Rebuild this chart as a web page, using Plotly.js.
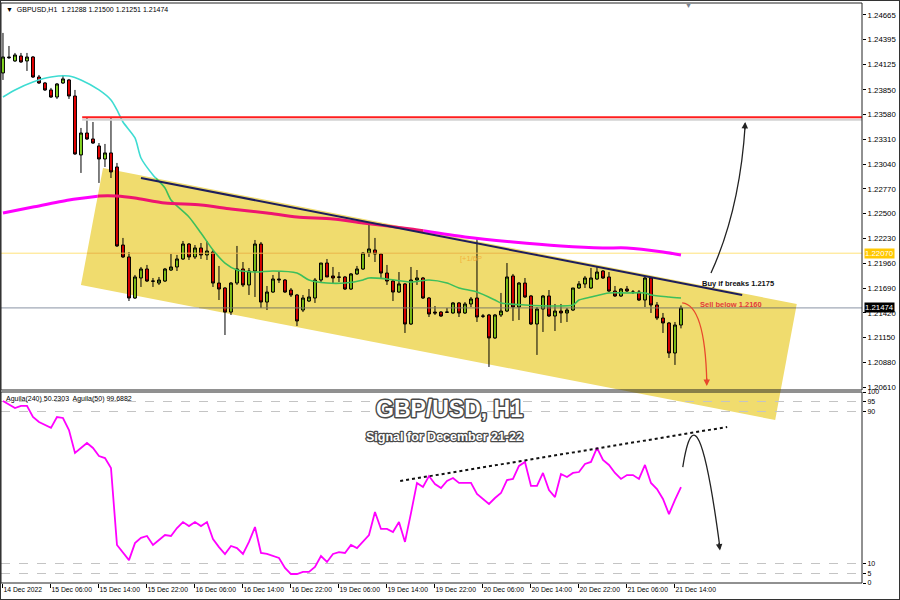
<!DOCTYPE html>
<html>
<head>
<meta charset="utf-8">
<script src="https://cdn.plot.ly/plotly-3.0.1.min.js"></script>
<style>
html,body{margin:0;padding:0;background:#fff;}
#wrap{position:relative;width:900px;height:600px;overflow:hidden;}
#chart{width:900px;height:600px;}
#frame{position:absolute;left:0;top:0;width:898px;height:598px;border:1px solid #333;pointer-events:none;}
</style>
</head>
<body>
<div id="wrap"><div id="chart"></div><div id="frame"></div></div>
<script>
// ---------------- DATA ----------------
const symbolName = 'GBPUSD,H1';

const barOpen = [1.24033,1.24207,1.24164,1.24218,1.24164,1.24207,1.23989,1.23924,1.23848,1.23771,
1.23924,1.23957,1.23782,1.23140,1.23379,1.23314,1.23238,1.23096,1.23162,1.23009,
1.22159,1.22029,1.21582,1.21800,1.21898,1.21767,1.21745,1.21767,1.21887,1.21920,
1.22007,1.22170,1.22029,1.22127,1.22051,1.22083,1.21745,1.21691,1.21429,1.21745,
1.21898,1.21724,1.21876,1.22170,1.21538,1.21647,1.21789,1.21778,1.21669,1.21615,
1.21451,1.21549,1.21582,1.21778,1.21963,1.21822,1.21811,1.21811,1.21680,1.21844,
1.21898,1.22072,1.22105,1.22061,1.21854,1.21767,1.21647,1.21735,1.21299,1.21778,
1.21800,1.21582,1.21429,1.21429,1.21429,1.21419,1.21528,1.21419,1.21517,1.21582,
1.21386,1.21397,1.21147,1.21397,1.21440,1.21822,1.21484,1.21745,1.21604,1.21299,
1.21462,1.21604,1.21386,1.21440,1.21419,1.21451,1.21691,1.21735,1.21691,1.21789,
1.21876,1.21811,1.21658,1.21604,1.21680,1.21647,1.21647,1.21560,1.21800,1.21506,
1.21364,1.21310,1.20983,1.21288];

const barHigh = [1.24469,1.24327,1.24251,1.24251,1.24251,1.24218,1.24011,1.23935,1.23870,1.23924,
1.24011,1.23968,1.23848,1.23434,1.23543,1.23499,1.23270,1.23260,1.23543,1.23053,
1.22236,1.22083,1.21833,1.21920,1.21942,1.21800,1.21811,1.21909,1.22061,1.22051,
1.22203,1.22181,1.22159,1.22181,1.22203,1.22105,1.21931,1.21700,1.21756,1.22149,
1.21974,1.21909,1.22214,1.22192,1.21713,1.21833,1.21876,1.21789,1.21691,1.21626,
1.21615,1.21680,1.21800,1.21963,1.22007,1.21920,1.21865,1.21822,1.21854,1.21931,
1.22083,1.22399,1.22236,1.22072,1.21942,1.21778,1.21865,1.21745,1.21920,1.21887,
1.21811,1.21593,1.21495,1.21440,1.21473,1.21538,1.21538,1.21538,1.21593,1.22236,
1.21408,1.21408,1.21408,1.21637,1.21963,1.21844,1.21756,1.21800,1.21615,1.21484,
1.21615,1.21669,1.21517,1.21517,1.21473,1.21691,1.21767,1.21822,1.21909,1.21920,
1.21887,1.21865,1.21713,1.21691,1.21713,1.21669,1.21669,1.21811,1.21811,1.21538,
1.21419,1.21321,1.21321,1.21500];

const barLow = [1.23957,1.24185,1.24153,1.24142,1.24055,1.23978,1.23913,1.23837,1.23761,1.23750,
1.23913,1.23750,1.23140,1.22944,1.23303,1.23260,1.22835,1.23009,1.22889,1.22138,
1.22018,1.21549,1.21571,1.21702,1.21756,1.21702,1.21724,1.21756,1.21876,1.21876,
1.21996,1.21996,1.22007,1.22007,1.21996,1.21702,1.21560,1.21179,1.21397,1.21724,
1.21702,1.21615,1.21593,1.21473,1.21451,1.21637,1.21745,1.21637,1.21593,1.21277,
1.21429,1.21538,1.21528,1.21756,1.21811,1.21745,1.21756,1.21669,1.21669,1.21833,
1.21887,1.22029,1.21974,1.21800,1.21724,1.21549,1.21637,1.21201,1.21288,1.21724,
1.21571,1.21375,1.21397,1.21375,1.21419,1.21410,1.21375,1.21408,1.21484,1.21321,
1.21364,1.20831,1.21136,1.21375,1.21429,1.21332,1.21342,1.21582,1.21288,1.20962,
1.21212,1.21375,1.21223,1.21310,1.21321,1.21440,1.21680,1.21691,1.21680,1.21778,
1.21789,1.21647,1.21593,1.21593,1.21647,1.21626,1.21549,1.21484,1.21419,1.21342,
1.21201,1.20929,1.20853,1.21251];

const barClose = [1.24207,1.24200,1.24229,1.24153,1.24207,1.23989,1.23924,1.23848,1.23771,1.23913,
1.23968,1.23782,1.23151,1.23379,1.23314,1.23270,1.23096,1.23162,1.22955,1.22149,
1.22029,1.21582,1.21811,1.21898,1.21767,1.21765,1.21778,1.21898,1.21920,1.22007,
1.22170,1.22029,1.22127,1.22051,1.22094,1.21745,1.21680,1.21429,1.21745,1.21898,
1.21724,1.21876,1.22170,1.21538,1.21647,1.21789,1.21780,1.21647,1.21615,1.21332,
1.21582,1.21593,1.21778,1.21963,1.21811,1.21800,1.21808,1.21680,1.21844,1.21898,
1.22072,1.22116,1.22061,1.21854,1.21767,1.21647,1.21735,1.21299,1.21778,1.21800,
1.21582,1.21408,1.21419,1.21386,1.21427,1.21528,1.21419,1.21517,1.21571,1.21375,
1.21384,1.21147,1.21397,1.21440,1.21811,1.21484,1.21745,1.21593,1.21299,1.21462,
1.21604,1.21386,1.21440,1.21419,1.21451,1.21691,1.21735,1.21800,1.21800,1.21865,
1.21800,1.21658,1.21604,1.21680,1.21658,1.21645,1.21560,1.21800,1.21506,1.21364,
1.21310,1.20983,1.21288,1.21474];

// fast moving average (read at bar positions)
const fastMaBar = [0,2,5,8,11,13,16,18,19,20,22,23,25,27,28,31,33,35,37,39,42,45,49,51,54,57,60,61,64,68,71,74,76,79,82,83,87,92,95,96,98,101,104,107,108,111,113];
const fastMaVal = [1.23771,1.23848,1.23935,1.23989,1.24000,1.23957,1.23848,1.23739,1.23630,1.23499,1.23325,1.23107,1.22922,1.22780,1.22650,1.22465,1.22290,1.22105,1.21963,1.21887,1.21865,1.21876,1.21854,1.21778,1.21745,1.21745,1.21778,1.21800,1.21789,1.21756,1.21778,1.21745,1.21691,1.21647,1.21560,1.21528,1.21506,1.21495,1.21506,1.21560,1.21593,1.21637,1.21637,1.21637,1.21615,1.21593,1.21582];

// slow moving average
const slowMaBar = [0,5,11,16,19,22,27,33,38,44,49,55,60,68,77,85,93,100,104,110,113];
const slowMaVal = [1.22508,1.22573,1.22650,1.22693,1.22693,1.22671,1.22617,1.22595,1.22552,1.22508,1.22464,1.22443,1.22399,1.22334,1.22247,1.22192,1.22149,1.22127,1.22127,1.22083,1.22051];

// Aguila oscillator
const aguilaBar = [0,2,3,4,5,6,8,9,10,11,12,13,14,15,16,17,18,19,20,21,22,23,24,25,26,27,28,29,30,31,32,33,34,35,36,37,38,39,40,41,42,43,44,45,46,47,48,49,50,51,52,53,54,55,56,57,58,59,60,61,62,63,64,65,66,67,68,69,70,71,72,73,74,75,76,78,79,81,82,83,84,85,86,87,88,89,90,91,92,93,94,95,96,97,98,99,100,101,102,103,104,105,106,107,108,109,110,111,112,113];
const aguilaVal = [95.3,91.6,92.7,92.7,86.9,84.3,81.2,86.9,86.4,80.1,
68.1,70.7,73.3,70.7,66.5,65.4,60.2,19.9,16.2,12.0,
20.9,23.6,24.6,19.9,22.5,25.1,24.6,28.8,31.9,29.8,
31.9,29.8,31.9,23.0,18.8,15.2,19.4,18.3,15.2,21.5,
29.3,15.7,15.2,14.1,13.1,7.9,4.7,4.7,5.8,5.8,
8.4,14.1,11.0,15.2,16.2,15.7,19.9,18.3,22.0,25.1,
37.2,28.3,28.3,26.7,31.9,21.5,36.6,52.4,50.3,56.0,
51.8,49.7,53.4,55.0,52.4,52.4,46.6,41.4,44.5,47.1,
53.9,54.5,61.3,63.4,50.8,50.8,57.6,48.7,45.0,57.1,
55.5,57.6,58.1,62.3,63.4,70.7,64.4,61.8,57.6,54.5,
56.5,56.5,54.5,61.8,52.4,49.2,44.0,36.1,43.5,50.2];
const aguilaLegend = 'Aguila(240) 50.2303  Aguila(50) 99.6882';

// time axis labels (one every 8 bars)
const timeLabels = ['14 Dec 2022','15 Dec 06:00','15 Dec 14:00','15 Dec 22:00','16 Dec 06:00','16 Dec 14:00','16 Dec 22:00','19 Dec 06:00','19 Dec 14:00','19 Dec 22:00','20 Dec 06:00','20 Dec 14:00','20 Dec 22:00','21 Dec 06:00','21 Dec 14:00'];
const priceTicks = [1.24665,1.24395,1.24125,1.23850,1.23580,1.23310,1.23040,1.22770,1.22500,1.22230,1.21960,1.21690,1.21420,1.21150,1.20880,1.20610];
const oscTicks = [0,5,10,90,95,100];

// drawn levels / objects (bar index, price)
const resistanceLevel = 1.2355;
const pivotLevel = 1.2207;
const channelBar = [16.67, 132.3, 128.7, 13.0];
const channelPrice = [1.22998, 1.21517, 1.20253, 1.21724];
const trendBar = [23, 123.2];
const trendPrice = [1.22889, 1.21615];
const oscTrendBar = [66.2, 120.7];
const oscTrendVal = [53.4, 81.7];

// ---------------- BUILD ----------------
const n = barClose.length;
const barIdx = Array.from({length:n}, (_,i)=>i);
const lastClose = barClose[n-1];
const tickBars = timeLabels.map((_,i)=>i*8);
const xRange = [-0.33, 143.17];
const priceRange = [1.20580, 1.24795];
const H = 580, topM = 3, botM = 17;
const mainDom = [(583-390)/H, 1];
const oscDom = [0, (583-392)/H];
const toPaperY = p => mainDom[0] + (p-priceRange[0])/(priceRange[1]-priceRange[0])*(mainDom[1]-mainDom[0]);

// channel polygon in (bar, price) space
const poly = channelBar.map((b,i)=>[b, channelPrice[i]]);
function insidePoly(x, y) {
  let c = false;
  for (let i=0, j=poly.length-1; i<poly.length; j=i++) {
    const [xi, yi] = poly[i], [xj, yj] = poly[j];
    if (((yi > y) !== (yj > y)) && (x < (xj-xi)*(y-yi)/(yj-yi) + xi)) c = !c;
  }
  return c;
}
function crossings(x0, y0, x1, y1) {
  const ts = [];
  for (let i=0, j=poly.length-1; i<poly.length; j=i++) {
    const [ax, ay] = poly[j], [bx, by] = poly[i];
    const dx = x1-x0, dy = y1-y0, ex = bx-ax, ey = by-ay;
    const den = dx*ey - dy*ex;
    if (Math.abs(den) < 1e-15) continue;
    const t = ((ax-x0)*ey - (ay-y0)*ex)/den;
    const u = ((ax-x0)*dy - (ay-y0)*dx)/den;
    if (t > 0 && t < 1 && u >= 0 && u <= 1) ts.push(t);
  }
  return ts.sort((a,b)=>a-b);
}
// splits a polyline into runs lying outside / inside the channel
function splitRuns(xs, ys) {
  const runs = [];
  let cur = {inside: insidePoly(xs[0], ys[0]), x:[xs[0]], y:[ys[0]]};
  for (let i=1; i<xs.length; i++) {
    const x0 = xs[i-1], y0 = ys[i-1], x1 = xs[i], y1 = ys[i];
    for (const t of crossings(x0, y0, x1, y1)) {
      const px = x0 + t*(x1-x0), py = y0 + t*(y1-y0);
      cur.x.push(px); cur.y.push(py); runs.push(cur);
      cur = {inside: !cur.inside, x:[px], y:[py]};
    }
    cur.x.push(x1); cur.y.push(y1);
  }
  runs.push(cur);
  return runs;
}
function lineTraces(xs, ys, outColor, inColor, width, shape) {
  return splitRuns(xs, ys).map(r => ({type:'scatter', mode:'lines', x:r.x, y:r.y, xaxis:'x', yaxis:'y',
    line:{color: r.inside ? inColor : outColor, width:width, shape:shape, smoothing:0.7}, hoverinfo:'skip'}));
}
function candleTrace(sel, upFill, downFill) {
  const ix = barIdx.filter(sel);
  return {type:'candlestick', x:ix, open:ix.map(i=>barOpen[i]), high:ix.map(i=>barHigh[i]),
    low:ix.map(i=>barLow[i]), close:ix.map(i=>barClose[i]),
    xaxis:'x', yaxis:'y', whiskerwidth:0, hoverinfo:'skip',
    increasing:{line:{color:'#000000', width:1}, fillcolor:upFill},
    decreasing:{line:{color:'#000000', width:1}, fillcolor:downFill}};
}
const barInChannel = i => insidePoly(i, (barOpen[i]+barClose[i])/2);

const traces = [].concat(
  lineTraces([xRange[0], xRange[1]], [pivotLevel, pivotLevel], '#FFE27A', '#E9B64A', 1, 'linear'),
  lineTraces([xRange[0], xRange[1]], [lastClose, lastClose], '#8A94A4', '#7E7C6A', 1, 'linear'),
  [candleTrace(i => !barInChannel(i), '#84D622', '#E40000'),
   candleTrace(i => barInChannel(i), '#7BBD16', '#D60000')],
  lineTraces(fastMaBar, fastMaVal, '#3EDCD2', '#3CBF5C', 1.6, 'spline'),
  lineTraces(slowMaBar, slowMaVal, '#FF00FF', '#EE1470', 3, 'spline'),
  [{type:'scatter', mode:'lines', x:aguilaBar, y:aguilaVal, xaxis:'x', yaxis:'y2',
    line:{color:'#FF00FF', width:1.8}, hoverinfo:'skip'}]
);

const chPath = channelBar.map((b,i)=>(i===0?'M ':'L ')+b+','+toPaperY(channelPrice[i])).join(' ')+' Z';

const shapes = [
  // channel under the data
  {type:'path', xref:'x', yref:'paper', path:chPath, fillcolor:'rgb(240,220,110)', line:{width:0}, layer:'below'},
  // resistance with soft shadow
  {type:'line', xref:'x', yref:'y', ysizemode:'pixel', yanchor:resistanceLevel, x0:13.2, x1:xRange[1], y0:-2.5, y1:-2.5, line:{color:'#D2D2D2', width:2}, layer:'above'},
  {type:'line', xref:'x', yref:'y', x0:13.2, x1:xRange[1], y0:resistanceLevel, y1:resistanceLevel, line:{color:'#FF1E1E', width:2}, layer:'above'},
  // trend line
  {type:'line', xref:'x', yref:'y', x0:trendBar[0], x1:trendBar[1], y0:trendPrice[0], y1:trendPrice[1], line:{color:'#1E1E5C', width:2}, layer:'above'},
  // oscillator dotted trend
  {type:'line', xref:'x', yref:'y2', x0:oscTrendBar[0], x1:oscTrendBar[1], y0:oscTrendVal[0], y1:oscTrendVal[1], line:{color:'#111111', width:2, dash:'dot'}, layer:'above'},
  // curved arrows
  {type:'path', xref:'x', yref:'y', path:'M 118,1.21854 Q 122.8,1.22541 123.7,1.23467', line:{color:'#222222', width:1.3}, layer:'above'},
  {type:'path', xref:'x', yref:'y', path:'M 113.2,1.21528 Q 117,1.21506 117.3,1.20667', line:{color:'#E8472C', width:1.3}, layer:'above'},
  {type:'path', xref:'x', yref:'y2', path:'M 113.3,60.7 Q 115.7,108.9 119.5,18.3', line:{color:'#222222', width:1.3}, layer:'above'},
  // panel frames
  {type:'rect', xref:'paper', yref:'paper', x0:0, x1:1, y0:mainDom[0], y1:mainDom[1], line:{color:'#222', width:1}, layer:'above'},
  {type:'rect', xref:'paper', yref:'paper', x0:0, x1:1, y0:oscDom[0], y1:oscDom[1], line:{color:'#222', width:1}, layer:'above'}
];

const hdr = '▼  ' + symbolName + '  ' + [barOpen[n-1],barHigh[n-1],barLow[n-1],barClose[n-1]].map(v=>v.toFixed(5)).join(' ');

const annotations = [
  {xref:'paper', yref:'paper', x:0.004, y:1, xanchor:'left', yanchor:'top', yshift:-1, text:hdr, showarrow:false, font:{size:7, color:'#000'}},
  {xref:'paper', yref:'paper', x:0.004, y:oscDom[1], xanchor:'left', yanchor:'top', yshift:-1, text:aguilaLegend, showarrow:false, font:{size:7, color:'#000'}},
  {xref:'paper', yref:'paper', x:(449-1)/861, y:(583-409)/H, xanchor:'center', yanchor:'middle', text:'GBP/USD, H1', showarrow:false, font:{size:23, color:'#FFFFFF', family:'Liberation Sans', weight:'bold'}},
  {xref:'paper', yref:'paper', x:(444-1)/861, y:(583-437)/H, xanchor:'center', yanchor:'middle', text:'Signal for December 21-22', showarrow:false, font:{size:12.5, color:'#FFFFFF', family:'Liberation Sans', weight:'bold'}},
  {xref:'x', yref:'y', x:116.2, y:1.21735, xanchor:'left', yanchor:'middle', text:'Buy if breaks 1.2175', showarrow:false, font:{size:7.5, color:'#111', weight:'bold'}},
  {xref:'x', yref:'y', x:115.8, y:1.21506, xanchor:'left', yanchor:'middle', text:'Sell below 1.2160', showarrow:false, font:{size:7.5, color:'#E23A3A', weight:'bold'}},
  {xref:'x', yref:'y', x:75.8, y:1.22007, xanchor:'left', yanchor:'middle', text:'[+1/6P', showarrow:false, font:{size:7.5, color:'#F2B23C'}},
  {xref:'paper', yref:'y', x:1.002, y:pivotLevel, xanchor:'left', yanchor:'middle', text:pivotLevel.toFixed(5), showarrow:false, bgcolor:'#FFC800', borderpad:0, font:{size:7.8, color:'#FFFFFF'}},
  {xref:'paper', yref:'y', x:1.002, y:lastClose, xanchor:'left', yanchor:'middle', text:lastClose.toFixed(5), showarrow:false, bgcolor:'#000000', borderpad:0, font:{size:7.8, color:'#FFFFFF'}},
  {xref:'paper', yref:'paper', x:(688-1)/861, y:1, xanchor:'center', yanchor:'middle', yshift:-2, text:'▼', showarrow:false, font:{size:7, color:'#7A8290'}},
  // arrow heads
  {xref:'x', yref:'y', x:123.7, y:1.23500, ax:-0.5, ay:9, text:'', showarrow:true, arrowhead:2, arrowsize:1, arrowwidth:1.3, arrowcolor:'#222222'},
  {xref:'x', yref:'y', x:117.3, y:1.20624, ax:0, ay:-9, text:'', showarrow:true, arrowhead:2, arrowsize:1, arrowwidth:1.3, arrowcolor:'#E8472C'},
  {xref:'x', yref:'y2', x:119.5, y:17.0, ax:-1.2, ay:-9, text:'', showarrow:true, arrowhead:2, arrowsize:1, arrowwidth:1.3, arrowcolor:'#222222'}
];

const layout = {
  width:900, height:600,
  margin:{l:1, r:38, t:topM, b:botM, pad:0},
  paper_bgcolor:'#FFFFFF', plot_bgcolor:'#FFFFFF',
  showlegend:false,
  font:{family:'Liberation Sans, Arial, sans-serif', size:8, color:'#000'},
  xaxis:{domain:[0,1], range:xRange, anchor:'y2', tickvals:tickBars, ticktext:timeLabels,
    ticks:'outside', ticklen:4, tickcolor:'#000', tickfont:{size:6.8, color:'#000'}, tickangle:0,
    ticklabelposition:'outside right', showgrid:false, zeroline:false, showline:false,
    rangeslider:{visible:false}, fixedrange:true},
  yaxis:{domain:mainDom, range:priceRange, side:'right', anchor:'x', tickvals:priceTicks,
    ticktext:priceTicks.map(v=>v.toFixed(5)), ticks:'outside', ticklen:3, tickcolor:'#000',
    tickfont:{size:7.8, color:'#000'}, showgrid:false, zeroline:false, showline:false, fixedrange:true},
  yaxis2:{domain:oscDom, range:[0,100], side:'right', anchor:'x', tickvals:oscTicks,
    ticks:'outside', ticklen:3, tickcolor:'#000', tickfont:{size:7, color:'#000'},
    showgrid:true, gridcolor:'#C4C4C4', griddash:'dash', gridwidth:1, zeroline:false, showline:false, fixedrange:true},
  shapes:shapes,
  annotations:annotations
};

Plotly.newPlot('chart', traces, layout, {displayModeBar:false, staticPlot:true}).then(gd => {
  gd.querySelectorAll('.annotation-text').forEach(t => {
    const s = t.textContent;
    if (s === 'GBP/USD, H1' || s === 'Signal for December 21-22') {
      t.style.paintOrder = 'stroke';
      t.style.stroke = '#4A4A4A';
      t.style.strokeWidth = s === 'GBP/USD, H1' ? '3px' : '2.5px';
      t.style.strokeLinejoin = 'round';
    }
  });
});
</script>
</body>
</html>
